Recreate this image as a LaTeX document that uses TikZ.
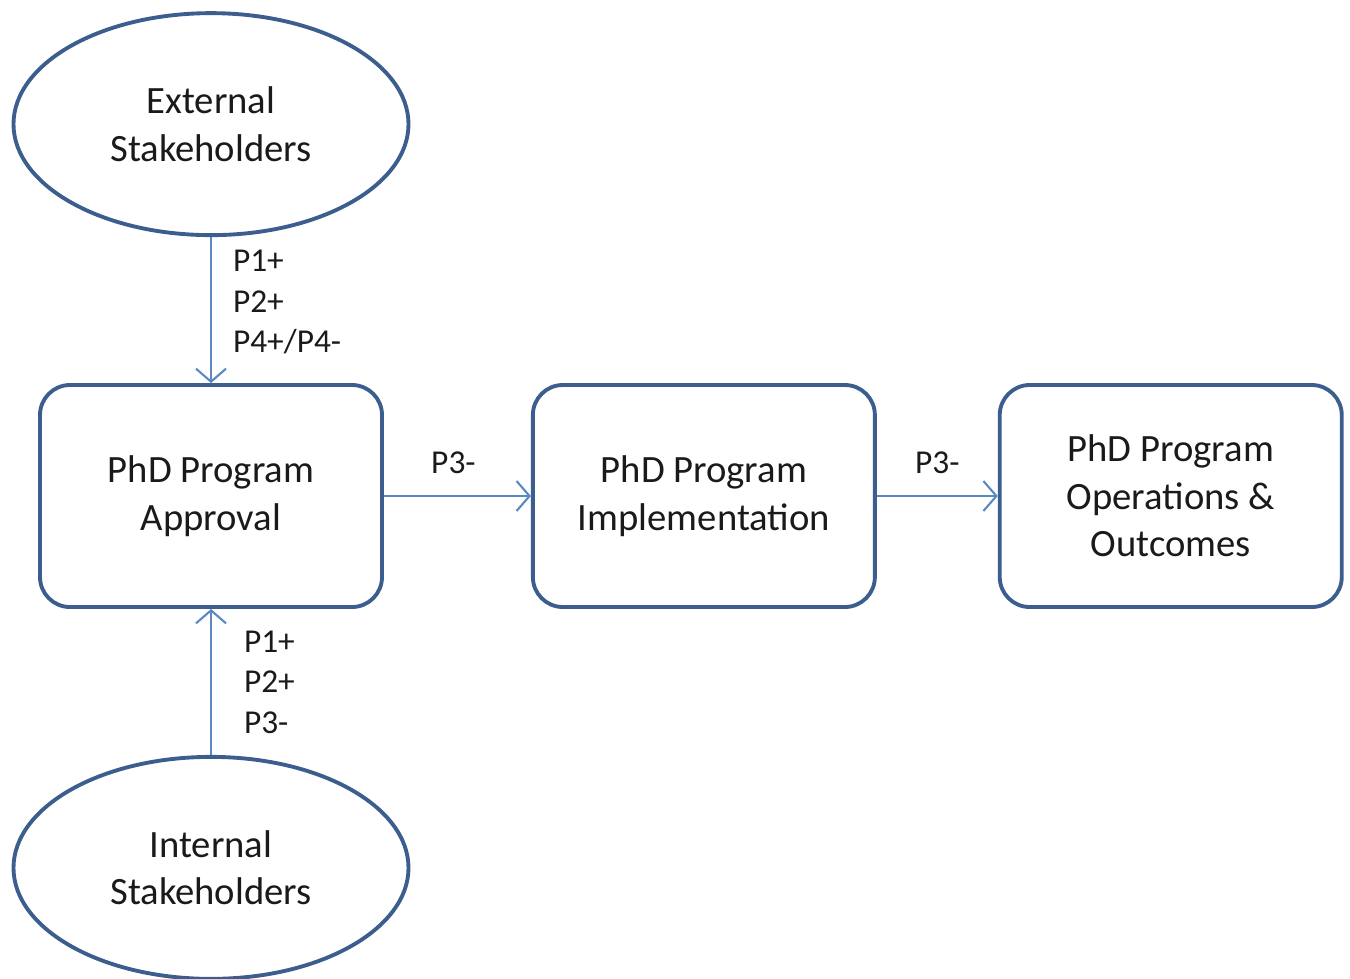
\documentclass[tikz,border=0pt]{standalone}
\usepackage{fontspec}
\setmainfont{Carlito}
\usepackage{xcolor}
\definecolor{cMain}{HTML}{3B5E8E}
\definecolor{cArrow}{HTML}{5B88C2}
\definecolor{cText}{HTML}{1A1A1A}
\usepackage{tikz}
\usetikzlibrary{positioning,arrows.meta,shapes.geometric}
\tikzset{
  node-box/.style={draw=cMain,line width=2.2pt,rounded corners=0.6cm,
    minimum width=6.84cm,minimum height=4.44cm,inner sep=0pt,align=center,
    text=cText,font=\fontsize{22}{27}\selectfont},
  node-actor/.style={draw=cMain,line width=2.2pt,ellipse,
    minimum width=7.9cm,minimum height=4.44cm,inner sep=0pt,align=center,
    text=cText,font=\fontsize{22}{27}\selectfont},
  arrow/.style={-{Straight Barb[length=2.6mm,width=6mm]},line width=1.2pt,draw=cArrow},
  tag/.style={text=cText,align=left,inner sep=0pt,font=\fontsize{19}{23}\selectfont},
}
\begin{document}
\begin{tikzpicture}[node distance=2.92cm and 2.94cm]
  \useasboundingbox (0,0) rectangle (27,-19.56);
  \node[node-box] (approve) at (4.22,-9.92) {PhD Program\\Approval};
  \node[node-box,right=of approve] (impl) {PhD Program\\Implementation};
  \node[node-box,right=2.42cm of impl] (outc) {PhD Program\\Operations \&\\Outcomes};

  \node[node-actor,above=of approve] (ext) {External\\Stakeholders};
  \node[node-actor,below=of approve] (int) {Internal\\Stakeholders};

  \draw[arrow] (ext) -- node[tag,right=0.42cm,yshift=0.16cm] {P1+\\P2+\\P4+/P4-} (approve);
  \draw[arrow] (int) -- node[tag,right=0.64cm] {P1+\\P2+\\P3-} (approve);
  \draw[arrow] (approve) -- node[tag,above=0.42cm,xshift=-0.08cm] {P3-} (impl);
  \draw[arrow] (impl) -- node[tag,above=0.42cm] {P3-} (outc);
\end{tikzpicture}
\end{document}
